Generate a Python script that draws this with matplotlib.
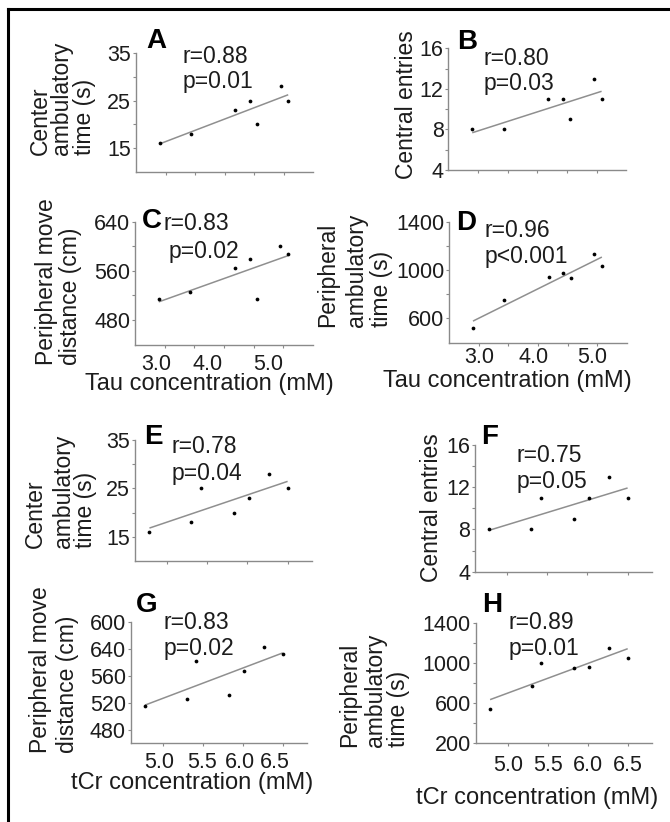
import numpy as np
import matplotlib
matplotlib.use('Agg')
import matplotlib.pyplot as plt
from matplotlib.lines import Line2D
from matplotlib.transforms import ScaledTranslation

plt.rcParams['font.family'] = ['Liberation Sans', 'DejaVu Sans']

W, H = 670, 822

# ---------------- data ----------------
tau_conc = [2.90, 3.43, 4.18, 4.43, 4.55, 4.95, 5.08]
tcr_conc = [4.78, 5.30, 5.42, 5.83, 6.02, 6.27, 6.50]

center_time_tau = [16, 18, 23, 25, 20, 28, 25]
central_entries_tau = [8, 8, 11, 11, 9, 13, 11]
periph_dist_tau = [514, 525, 564, 579, 514, 601, 588]
periph_time_tau = [523, 752, 942, 978, 931, 1129, 1033]

center_time_tcr = [16, 18, 25, 20, 23, 28, 25]
central_entries_tcr = [8, 8, 11, 9, 11, 13, 11]
periph_dist_tcr = [515, 526, 582, 531, 567, 602, 592]
periph_time_tcr = [540, 773, 1000, 950, 966, 1150, 1050]

r_texts = ['r=0.88', 'r=0.80', 'r=0.83', 'r=0.96', 'r=0.78', 'r=0.75', 'r=0.83', 'r=0.89']
p_texts = ['p=0.01', 'p=0.03', 'p=0.02', 'p<0.001', 'p=0.04', 'p=0.05', 'p=0.02', 'p=0.01']
letters = ['A', 'B', 'C', 'D', 'E', 'F', 'G', 'H']

tau_major = [3.0, 4.0, 5.0]
tau_minor = [3.5, 4.5]
tau_labels = ['3.0', '4.0', '5.0']
tcr_major = [5.0, 5.5, 6.0, 6.5]
tcr_labels = ['5.0', '5.5', '6.0', '6.5']

ct_major, ct_minor = [15, 25, 35], [20, 30]
ce_major, ce_minor = [4, 8, 12, 16], [6, 10, 14]
pd_major, pd_minor = [480, 560, 640], [520, 600]
pdg_major = [480, 520, 560, 600, 640]
pdg_labels = ['480', '520', '560', '640', '600']
pt_major, pt_minor = [600, 1000, 1400], [800, 1200]
pth_major, pth_minor = [200, 600, 1000, 1400], [400, 800, 1200]

xlab_tau = 'Tau concentration (mM)'
xlab_tcr = 'tCr concentration (mM)'

# ---------------- layout (pixels) ----------------
panels = [
    dict(box=(136, 53, 313, 172), x=tau_conc, y=center_time_tau, xlim=(2.5, 5.5), ylim=(10, 35),
         xmaj=tau_major, xmin=tau_minor, xlab=None, ymaj=ct_major, ymin=ct_minor, ylab=None,
         yl=[('Center', 40), ('ambulatory', 62), ('time (s)', 84)], ylb=155,
         let=(156.7, 38.3), r=(183, 55), p=(183, 80)),
    dict(box=(448.5, 48.3, 626.5, 170), x=tau_conc, y=central_entries_tau, xlim=(2.5, 5.5), ylim=(4, 16),
         xmaj=tau_major, xmin=tau_minor, xlab=None, ymaj=ce_major, ymin=ce_minor, ylab=None,
         yl=[('Central entries', 406.7)], ylc=104.5,
         let=(467.3, 39), r=(483.3, 56.7), p=(483.3, 81.7)),
    dict(box=(135, 221.7, 313, 344.6), x=tau_conc, y=periph_dist_tau, xlim=(2.5, 5.5), ylim=(440, 640),
         xmaj=tau_major, xmin=tau_minor, xlab=tau_labels, xpad=4.0, xdx=[-8, -16, -15],
         ymaj=pd_major, ymin=pd_minor, ylab=None,
         yl=[('Peripheral move', 47), ('distance (cm)', 70.5)], ylb=365,
         let=(151.7, 218.3), r=(163.3, 221.7), p=(168.3, 250),
         xl=(xlab_tau, 209, 382.5)),
    dict(box=(449.3, 221.7, 626.7, 342.7), x=tau_conc, y=periph_time_tau, xlim=(2.5, 5.5), ylim=(400, 1400),
         xmaj=tau_major, xmin=tau_minor, xlab=tau_labels, xpad=0.8, xdx=[0, -4, -5],
         ymaj=pt_major, ymin=pt_minor, ylab=None,
         yl=[('Peripheral', 328), ('ambulatory', 356), ('time (s)', 381)], ylb=326.7,
         let=(465.7, 220), r=(484.3, 228.3), p=(484.3, 255),
         xl=(xlab_tau, 507.5, 380)),
    dict(box=(135, 440, 311.7, 561), x=tcr_conc, y=center_time_tcr, xlim=(4.6, 6.8), ylim=(10, 35),
         xmaj=tcr_major, xmin=[], xlab=None, ymaj=ct_major, ymin=ct_minor, ylab=None,
         yl=[('Center', 35), ('ambulatory', 63.3), ('time (s)', 85.8)], ylb=548.3,
         let=(153.3, 434), r=(171.7, 445), p=(171.7, 471.7)),
    dict(box=(475, 445, 651.7, 571.7), x=tcr_conc, y=central_entries_tcr, xlim=(4.6, 6.8), ylim=(4, 16),
         xmaj=tcr_major, xmin=[], xlab=None, ymaj=ce_major, ymin=ce_minor, ylab=None,
         yl=[('Central entries', 431)], ylc=507.5,
         let=(490, 434), r=(516.7, 453.3), p=(516.7, 480)),
    dict(box=(130.7, 621.7, 306.7, 743.3), x=tcr_conc, y=periph_dist_tcr, xlim=(4.6, 6.8), ylim=(460, 640),
         xmaj=tcr_major, xmin=[], xlab=tcr_labels, xpad=3.5, xdx=[-4, -1, -3, -8],
         ymaj=pdg_major, ymin=[], ylab=pdg_labels,
         yl=[('Peripheral move', 41), ('distance (cm)', 67.5)], ylb=753.3,
         let=(146.7, 602.3), r=(163.3, 620.7), p=(163.3, 646.7),
         xl=(xlab_tcr, 192.5, 781.5)),
    dict(box=(475.7, 623.3, 651.7, 743.3), x=tcr_conc, y=periph_time_tcr, xlim=(4.6, 6.8), ylim=(200, 1400),
         xmaj=tcr_major, xmin=[], xlab=tcr_labels, xpad=5.7,
         ymaj=pth_major, ymin=pth_minor, ylab=None,
         yl=[('Peripheral', 350), ('ambulatory', 376), ('time (s)', 399)], ylb=746.7,
         let=(491.7, 602.3), r=(508.3, 620.7), p=(508.3, 646.7),
         xl=(xlab_tcr, 537.5, 796.7)),
]

TXT = '#1c1c1c'
AXC = '#8a8a8a'
FS_LAB = 16.5
FS_XLAB = 17
FS_TICK = 15.5
FS_LET = 20

fig = plt.figure(figsize=(W / 100, H / 100), dpi=100)
fig.patch.set_facecolor('white')


def fx(x):
    return x / W


def fy(y):
    return 1 - y / H


em_lab = FS_LAB * 100 / 72
em_xlab = FS_XLAB * 100 / 72
em_let = FS_LET * 100 / 72

for i, P in enumerate(panels):
    L, T, R, B = P['box']
    ax = fig.add_axes([fx(L), fy(B), (R - L) / W, (B - T) / H])
    ax.set_facecolor('none')
    for s in ('top', 'right'):
        ax.spines[s].set_visible(False)
    for s in ('left', 'bottom'):
        ax.spines[s].set_color(AXC)
        ax.spines[s].set_linewidth(1.0)
    ax.set_xlim(*P['xlim'])
    ax.set_ylim(*P['ylim'])

    x = np.array(P['x'], dtype=float)
    y = np.array(P['y'], dtype=float)
    coef = np.polyfit(x, y, 1)
    xs = np.array([x.min(), x.max()])
    ax.plot(xs, np.polyval(coef, xs), color='#8f8f8f', lw=1.1, solid_capstyle='butt')
    ax.plot(x, y, 'o', ms=2.7, color='black', mec='none', clip_on=False)

    ax.set_xticks(P['xmaj'])
    ax.set_xticks(P['xmin'], minor=True)
    if P['xlab'] is None:
        ax.set_xticklabels([])
    else:
        ax.set_xticklabels(P['xlab'])
    ax.set_yticks(P['ymaj'])
    ax.set_yticks(P['ymin'], minor=True)
    if P['ylab'] is not None:
        ax.set_yticklabels(P['ylab'])
    ax.tick_params(which='both', direction='out', length=2.5, width=0.8, color=AXC,
                   labelsize=FS_TICK, labelcolor=TXT)
    ax.tick_params(axis='y', which='both', pad=1)
    ax.tick_params(axis='x', which='both', pad=P.get('xpad', 2))

    # small horizontal nudges of x tick labels as placed in the original figure
    if 'xdx' in P:
        for lab, dx in zip(ax.get_xticklabels(), P['xdx']):
            lab.set_transform(lab.get_transform() + ScaledTranslation(dx / 100, 0, fig.dpi_scale_trans))

    # y label lines
    for txt, xc in P['yl']:
        if 'ylb' in P:
            fig.text(fx(xc), fy(P['ylb']), txt, rotation=90, ha='center', va='bottom',
                     fontsize=FS_LAB, color=TXT)
        else:
            fig.text(fx(xc), fy(P['ylc']), txt, rotation=90, ha='center', va='center',
                     fontsize=FS_LAB, color=TXT)

    # x label
    if 'xl' in P:
        s, xc, yc = P['xl']
        fig.text(fx(xc), fy(yc + 0.30 * em_xlab), s, ha='center', va='baseline',
                 fontsize=FS_XLAB, color=TXT)

    # panel letter
    lx, ly = P['let']
    fig.text(fx(lx), fy(ly + 0.358 * em_let), letters[i], ha='center', va='baseline',
             fontsize=FS_LET, fontweight='bold', color='black')

    # statistics
    rx, ry = P['r']
    px, py = P['p']
    fig.text(fx(rx), fy(ry + 0.358 * em_lab), r_texts[i], ha='left', va='baseline',
             fontsize=FS_LAB, color=TXT)
    fig.text(fx(px), fy(py + 0.358 * em_lab), p_texts[i], ha='left', va='baseline',
             fontsize=FS_LAB, color=TXT)

# frame lines (top and left edges of the figure box)
fig.add_artist(Line2D([fx(8), fx(670)], [fy(9), fy(9)], color='black', lw=2.2))
fig.add_artist(Line2D([fx(8), fx(8)], [fy(9), fy(822)], color='black', lw=2.2))

fig.savefig('out.png', dpi=100)
